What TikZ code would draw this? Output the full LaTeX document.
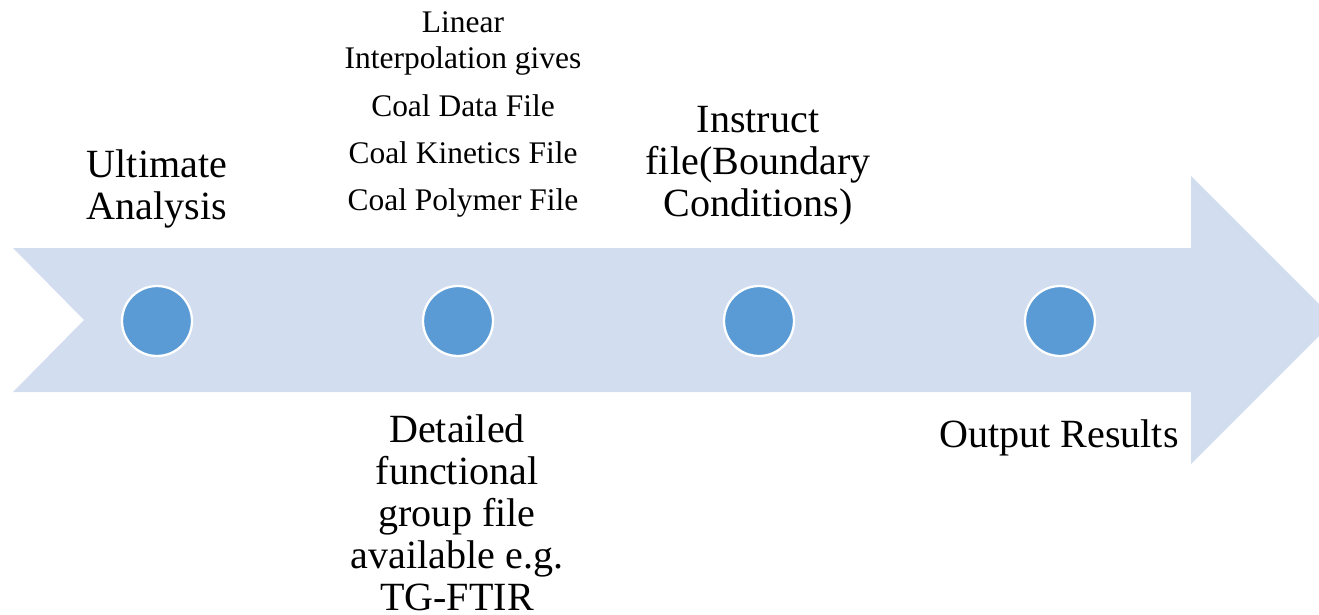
\documentclass[tikz,border=0pt]{standalone}
\usepackage{fontspec}
\setmainfont{Liberation Serif}
\usepackage{tikz}
\usetikzlibrary{positioning}
\definecolor{bandblue}{HTML}{D2DEEF}
\definecolor{dotblue}{HTML}{5B9BD5}
\tikzstyle{stage} = [circle, minimum size=1.4cm, inner sep=0pt, fill=dotblue, draw=white, line width=1.3pt]
\tikzstyle{biglabel} = [align=center, inner sep=0pt, anchor=base, font=\fontsize{22.8}{23.9}\selectfont]
\tikzstyle{smalllabel} = [align=center, inner sep=0pt, anchor=base, font=\fontsize{17.9}{20.5}\selectfont]

\begin{document}
\begin{tikzpicture}[x=0.02cm, y=-0.02cm]

\useasboundingbox (0,0) rectangle (1319,615);
\clip (0,0) rectangle (1319,615);

% Timeline band with notched tail and head
\fill[bandblue] (13,248) -- (1191,248) -- (1191,176) -- (1335,320)
    -- (1191,464) -- (1191,392) -- (13,392) -- (84,320) -- cycle;

% Stages along the band
\node (s1) [stage] at (157,321) {};
\node (s2) [stage] at (458,321) {};
\node (s3) [stage] at (759,321) {};
\node (s4) [stage] at (1060,321) {};

% Labels above (base = last line)
\node (ultimate) [biglabel] at (157,219) {Ultimate\\Analysis};
\node (coalfiles) [smalllabel] at (463,211) {Linear\\Interpolation gives\\[6.5pt]Coal Data File\\[6.5pt]Coal Kinetics File\\[6.5pt]Coal Polymer File};
\node (instruct) [biglabel] at (758,216) {Instruct\\file(Boundary\\Conditions)};

% Labels below
\node (detailed) [biglabel] at (457,610) {Detailed\\functional\\group file\\available e.g.\\TG-FTIR};
\node (output) [biglabel] at (1059,447) {Output Results};

\end{tikzpicture}
\end{document}
